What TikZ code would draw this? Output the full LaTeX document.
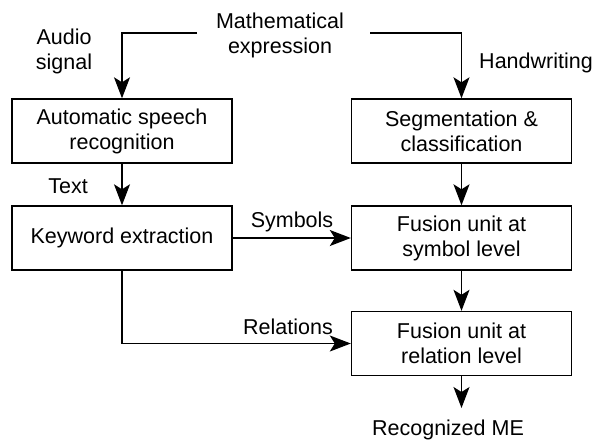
\documentclass[tikz,border=0pt]{standalone}
\usepackage{fontspec}
\setmainfont{Liberation Sans}
\usetikzlibrary{arrows.meta}
\begin{document}
\begin{tikzpicture}[x=1pt,y=-1pt,
  every node/.style={font=\fontsize{21.5}{25}\selectfont, align=center, inner sep=0pt},
  block/.style={draw, line width=1.4pt, minimum width=220pt, minimum height=64pt},
  flow/.style={line width=1.4pt, -{Stealth[length=21pt,width=16pt,inset=5pt]}}]
\useasboundingbox (0,0) rectangle (599,440);

% processing blocks
\node[block] (asr) at (122,131) {Automatic speech\\recognition};
\node[block] (seg) at (461.5,131) {Segmentation \&\\classification};
\node[block] (kw)  at (122,238) {Keyword extraction};
\node[block] (fs)  at (461.5,238) {Fusion unit at\\symbol level};
\node[block] (fr)  at (461.5,343.5) {Fusion unit at\\relation level};

% input and output labels
\node (me) at (280,35) {Mathematical\\expression};
\node (audio) at (64,51) {Audio\\signal};
\node (hw) at (536,63) {Handwriting};
\node (txt) at (68,186) {Text};
\node (sym) at (292,222) {Symbols};
\node (rel) at (288,327) {Relations};
\node (rme) at (448,430) {Recognized ME};

% ends of the input lines
\coordinate (ml) at (197,33);
\coordinate (mr) at (370,33);
\coordinate (out) at (461.5,408);

% connectors
\draw[flow] (ml) -| (asr.north);
\draw[flow] (mr) -| (seg.north);
\draw[flow] (asr.south) -- (kw.north);
\draw[flow] (seg.south) -- (fs.north);
\draw[flow] (kw.east) -- (fs.west);
\draw[flow] (fs.south) -- (fr.north);
\draw[flow] (kw.south) |- (fr.west);
\draw[flow] (fr.south) -- (out);
\end{tikzpicture}
\end{document}
